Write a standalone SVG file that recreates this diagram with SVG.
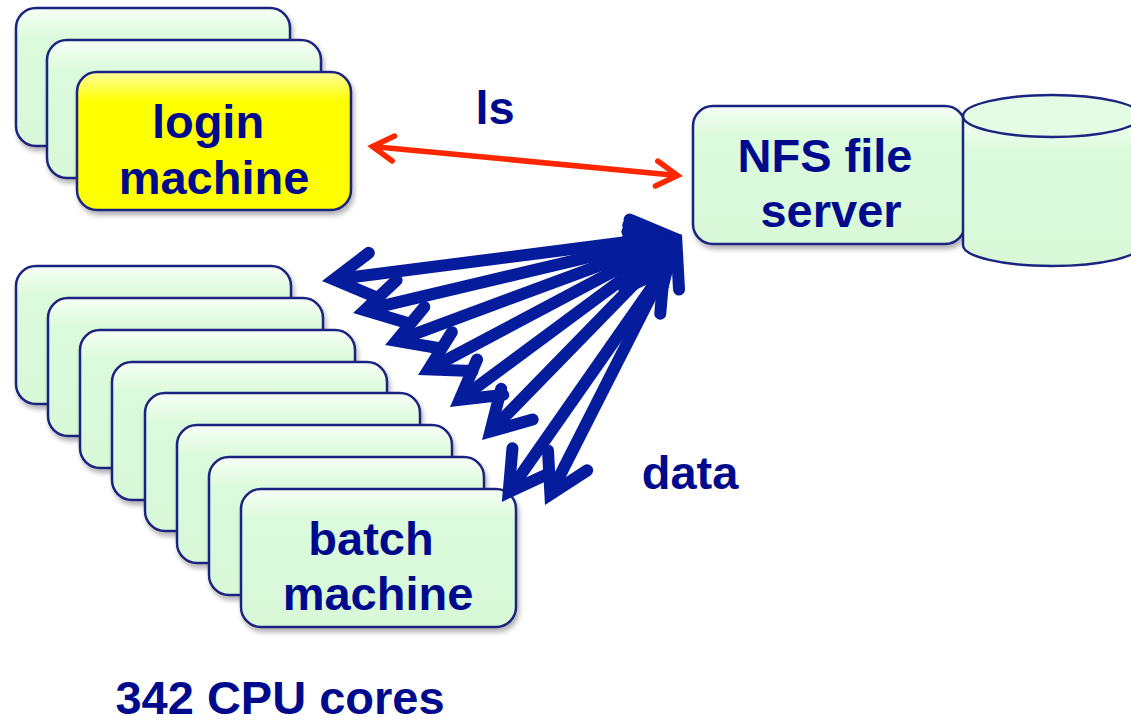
<svg xmlns="http://www.w3.org/2000/svg" width="1131" height="723" viewBox="0 0 1131 723">
  <style>
    .box { stroke: #1b2480; stroke-width: 2.5; filter: url(#shadow); }
    .green { fill: url(#gGreen); }
    .yellow { fill: url(#gYellow); }
    .label { font-family: "Liberation Sans", Arial, sans-serif; font-weight: bold; font-size: 47px; fill: #000a8c; text-anchor: middle; }
    .data { stroke: #051c9c; stroke-width: 12; fill: none; }
    .ls { stroke: #ff2600; stroke-width: 5.5; fill: none; }
  </style>
  <defs>
    <linearGradient id="gGreen" x1="0" y1="0" x2="0" y2="1">
      <stop offset="0" stop-color="#f6fff6"/>
      <stop offset="0.22" stop-color="#dcfadc"/>
      <stop offset="1" stop-color="#d8f8d8"/>
    </linearGradient>
    <linearGradient id="gYellow" x1="0" y1="0" x2="0" y2="1">
      <stop offset="0" stop-color="#ffff9a"/>
      <stop offset="0.22" stop-color="#ffff00"/>
      <stop offset="1" stop-color="#fefe00"/>
    </linearGradient>
    <filter id="shadow" x="-10%" y="-10%" width="125%" height="130%">
      <feDropShadow dx="2" dy="4" stdDeviation="2.5" flood-color="#000" flood-opacity="0.3"/>
    </filter>
    <marker id="headBlue" markerUnits="userSpaceOnUse" orient="auto-start-reverse" refX="0" refY="0" overflow="visible">
      <path d="M-38,-22 L0,0 L-38,22" fill="none" stroke="#051c9c" stroke-width="12" stroke-linecap="round" stroke-linejoin="miter"/>
    </marker>
    <marker id="headRed" markerUnits="userSpaceOnUse" orient="auto-start-reverse" refX="0" refY="0" overflow="visible">
      <path d="M-21,-12.5 L0,0 L-21,12.5" fill="none" stroke="#ff2600" stroke-width="5.5" stroke-linecap="round" stroke-linejoin="miter"/>
    </marker>
  </defs>

  <rect width="1131" height="723" fill="#ffffff"/>

  <!-- login machines (stack of three) -->
  <g id="login-stack">
    <rect class="box green" x="16" y="8" width="274" height="138" rx="20"/>
    <rect class="box green" x="47" y="40" width="274" height="138" rx="20"/>
  </g>
  <g id="login-machine">
    <rect class="box yellow" x="77" y="72" width="274" height="138" rx="20"/>
    <text class="label" x="208" y="138">login</text>
    <text class="label" x="214" y="194">machine</text>
  </g>

  <!-- batch machines (stack of eight) -->
  <g id="batch-stack">
    <rect class="box green" x="16" y="266" width="275" height="138" rx="20"/>
    <rect class="box green" x="48" y="298" width="275" height="138" rx="20"/>
    <rect class="box green" x="80" y="330" width="275" height="138" rx="20"/>
    <rect class="box green" x="112" y="362" width="275" height="138" rx="20"/>
    <rect class="box green" x="145" y="393" width="275" height="138" rx="20"/>
    <rect class="box green" x="177" y="425" width="275" height="138" rx="20"/>
    <rect class="box green" x="209" y="457" width="275" height="138" rx="20"/>
  </g>
  <g id="batch-machine">
    <rect class="box green" x="241" y="489" width="275" height="138" rx="20"/>
    <text class="label" x="371" y="555">batch</text>
    <text class="label" x="378" y="610">machine</text>
  </g>

  <!-- NFS file server -->
  <g id="nfs-server">
    <rect class="box green" x="693" y="106" width="272" height="138" rx="20"/>
    <text class="label" x="825" y="172">NFS file</text>
    <text class="label" x="831" y="227">server</text>
  </g>

  <!-- disk -->
  <g id="disk">
    <path d="M963,116 L963,245 A89,21 0 0 0 1141,245 L1141,116 Z" fill="url(#gGreen)" stroke="#1b2480" stroke-width="2.5"/>
    <ellipse cx="1052" cy="116" rx="89" ry="21" fill="#e4fbe4" stroke="#1b2480" stroke-width="2.5"/>
  </g>

  <!-- connectors -->
  <g id="connectors">
    <line class="ls" x1="372.5" y1="146.5" x2="677.5" y2="175.5" marker-start="url(#headRed)" marker-end="url(#headRed)"/>
    <line class="data" x1="333.9" y1="279.5" x2="670.1" y2="236.5" marker-start="url(#headBlue)" marker-end="url(#headBlue)"/>
    <line class="data" x1="364.7" y1="310.2" x2="670.3" y2="237.8" marker-start="url(#headBlue)" marker-end="url(#headBlue)"/>
    <line class="data" x1="396.3" y1="340.8" x2="670.7" y2="239.2" marker-start="url(#headBlue)" marker-end="url(#headBlue)"/>
    <line class="data" x1="428.6" y1="369.4" x2="671.4" y2="240.6" marker-start="url(#headBlue)" marker-end="url(#headBlue)"/>
    <line class="data" x1="459.6" y1="399.8" x2="672.4" y2="242.2" marker-start="url(#headBlue)" marker-end="url(#headBlue)"/>
    <line class="data" x1="490.4" y1="431.4" x2="673.6" y2="243.6" marker-start="url(#headBlue)" marker-end="url(#headBlue)"/>
    <line class="data" x1="508.7" y1="492.1" x2="664" y2="270" marker-start="url(#headBlue)" marker-end="url(#headBlue)"/>
    <line class="data" x1="550.4" y1="494.3" x2="676.6" y2="245.7" marker-start="url(#headBlue)" marker-end="url(#headBlue)"/>
  </g>

  <!-- labels -->
  <text class="label" x="495" y="124">ls</text>
  <text class="label" x="690" y="489">data</text>
  <text class="label" x="280" y="714">342 CPU cores</text>
</svg>
